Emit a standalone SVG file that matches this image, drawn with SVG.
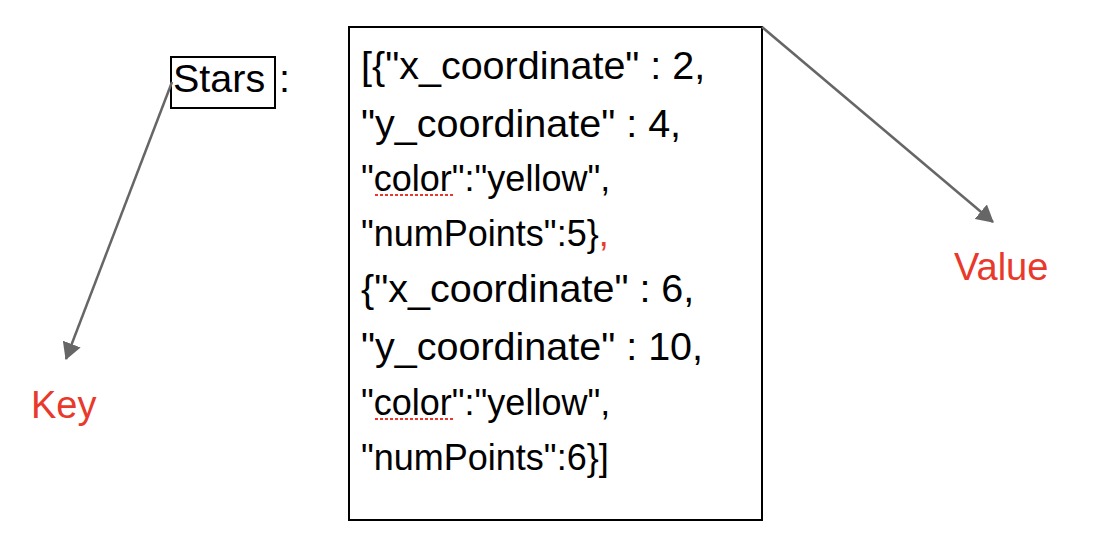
<svg xmlns="http://www.w3.org/2000/svg" width="1094" height="548" viewBox="0 0 1094 548">
<style>
text{font-family:"Liberation Sans",Arial,sans-serif;fill:#000}
.big{font-size:39.5px}
.small{font-size:36px}
.red{fill:#e8392b}
.lbl{font-size:38px;fill:#e8392b}
.box{fill:#fff;stroke:#000;stroke-width:2}
.conn{stroke:#666;stroke-width:2.5;fill:none}
.squig{stroke:#e8392b;stroke-width:2;stroke-dasharray:3 2;fill:none}
</style>
<defs>
<marker id="ah" viewBox="0 0 17 19" refX="16" refY="9.5" markerWidth="17" markerHeight="19" markerUnits="userSpaceOnUse" orient="auto">
<path d="M0,0 L17,9.5 L0,19 z" fill="#666"/>
</marker>
</defs>
<rect width="1094" height="548" fill="#fff"/>
<g id="value-box">
<rect class="box" x="349" y="27" width="413" height="493"/>
<text class="big" x="361" y="79">[{"x_coordinate" : 2,</text>
<text class="big" x="361" y="137">"y_coordinate" : 4,</text>
<text class="small" x="361" y="191">"color":"yellow",</text>
<path class="squig" d="M375,195 H453"/>
<text class="small" x="361" y="246">"numPoints":5}<tspan class="red">,</tspan></text>
<text class="big" x="361" y="302">{"x_coordinate" : 6,</text>
<text class="big" x="361" y="360">"y_coordinate" : 10,</text>
<text class="small" x="361" y="415">"color":"yellow",</text>
<path class="squig" d="M375,419 H453"/>
<text class="small" x="361" y="470">"numPoints":6}]</text>
</g>
<g id="stars">
<rect class="box" x="171" y="57" width="104" height="51"/>
<text class="big" x="173" y="92">Stars</text>
<text class="big" x="279" y="92">:</text>
</g>
<g id="key">
<text class="lbl" x="31" y="418">Key</text>
</g>
<g id="value">
<text class="lbl" x="954" y="280">Value</text>
</g>
<g id="connectors">
<line class="conn" x1="172" y1="82" x2="66" y2="359" marker-end="url(#ah)"/>
<line class="conn" x1="762" y1="27" x2="993" y2="222" marker-end="url(#ah)"/>
</g>
</svg>
